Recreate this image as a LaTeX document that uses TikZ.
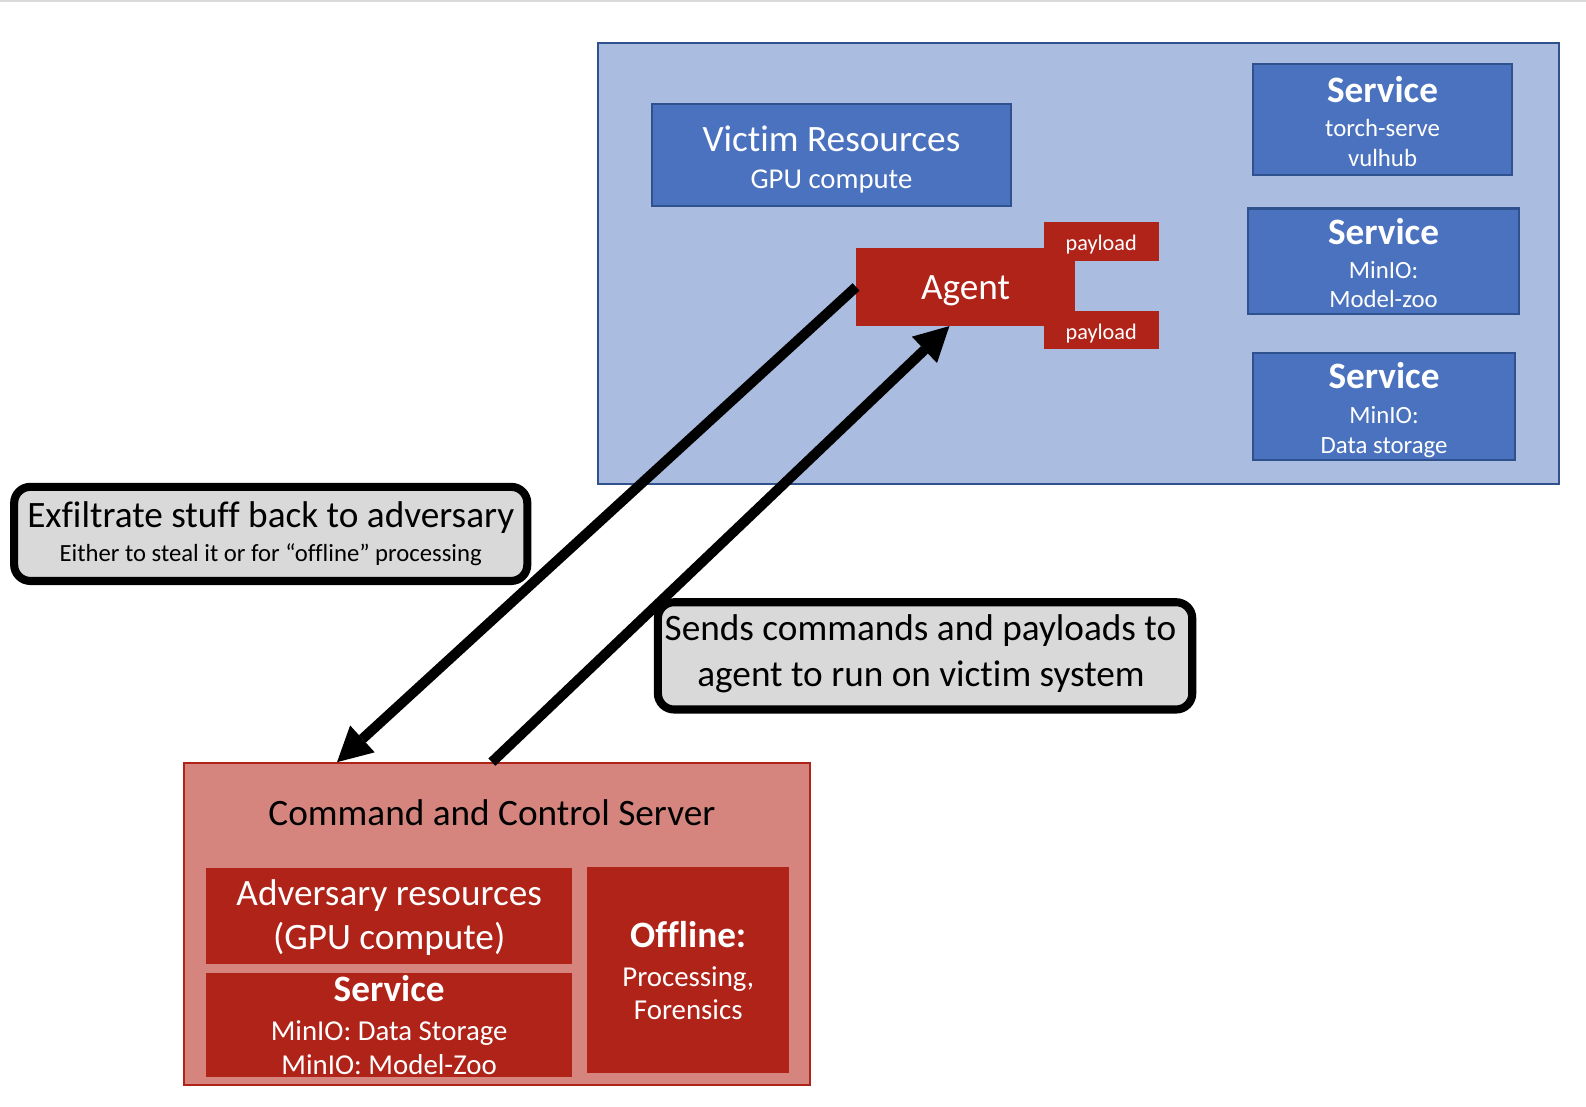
\documentclass[tikz,border=0pt]{standalone}
\usepackage{fontspec}
\setmainfont{Carlito}[Ligatures={NoCommon}]
\usetikzlibrary{arrows.meta}
\definecolor{bluebg}{HTML}{AABCE0}
\definecolor{blueline}{HTML}{2F528F}
\definecolor{bluebox}{HTML}{4A72BE}
\definecolor{redbox}{HTML}{AF2319}
\definecolor{redbg}{HTML}{D5847E}
\definecolor{callgray}{HTML}{D9D9D9}
\newcommand\fsz[1]{\fontsize{#1}{#1}\selectfont}
% a line of fixed height: optional height of the strut, then the text
\newcommand\Ln[2][0]{\rule{0pt}{#1pt}\smash{#2}}
\begin{document}
\begin{tikzpicture}[x=1pt,y=-1pt,
  bbox/.style={draw=blueline, line width=2pt, fill=bluebox, text=white, rectangle,
    inner sep=0pt, align=center, font=\fsz{36.8}},
  rbox/.style={fill=redbox, text=white, rectangle, inner sep=0pt, align=center, font=\fsz{36.8}},
  callout/.style={draw=black, line width=8pt, fill=callgray, rounded corners=16pt,
    rectangle, inner sep=0pt, align=center, font=\fsz{36.8}, text=black},
  arr/.style={line width=10pt, draw=black, -{Triangle[length=34pt,width=36pt,line width=0pt]}}]
\useasboundingbox (0,0) rectangle (1567,1093);
\fill[callgray] (0,0) rectangle (1567,2);

% victim environment
\node[draw=blueline, line width=2pt, fill=bluebg, rectangle, inner sep=0pt,
  minimum width=949pt, minimum height=436pt] (victim) at (1065.5,260) {};
\node[bbox, minimum width=355pt, minimum height=101pt] (vres) at (821.5,153.5)
  {\Ln[28.8]{Victim Resources}\\[0.4pt]{\fsz{28.4}\Ln{GPU compute}}};
\node[bbox, minimum width=256pt, minimum height=110pt] (svc1) at (1366,118)
  {\Ln[29.5]{\bfseries Service}\\[-2.9pt]{\fsz{24.5}\Ln{torch-serve}}\\[-7.8pt]{\fsz{24.5}\Ln{vulhub}}};
\node[bbox, minimum width=268pt, minimum height=104pt] (svc2) at (1367,258)
  {\Ln[29.5]{\bfseries Service}\\[-2.9pt]{\fsz{24.5}\Ln{MinIO:}}\\[-7.8pt]{\fsz{24.5}\Ln{Model-zoo}}};
\node[bbox, minimum width=259pt, minimum height=105pt] (svc3) at (1367.5,401.5)
  {\Ln[29.5]{\bfseries Service}\\[-2.9pt]{\fsz{24.5}\Ln{MinIO:}}\\[-6.8pt]{\fsz{24.5}\Ln{Data storage}}};

% agent
\node[rbox, minimum width=216pt, minimum height=77pt] (agent) at (954,283.5) {};
\node[rbox, minimum width=114pt, minimum height=39pt, font=\fsz{22}, text height=17pt, text depth=0pt] (pl1) at (1088,238.5) {payload};
\node[rbox, minimum width=114pt, minimum height=38pt, font=\fsz{22}, text height=18.6pt, text depth=0pt] (pl2) at (1088,326) {payload};
\node[text=white, font=\fsz{36.8}, inner sep=0pt, anchor=base] (agentlbl) at (954,296.3) {Agent};

% command and control server
\node[draw=redbox, line width=2pt, fill=redbg, rectangle, inner sep=0pt,
  minimum width=618pt, minimum height=318pt] (c2) at (491,913) {};
\node[font=\fsz{36.8}, text=black, inner sep=0pt, anchor=base] (c2title) at (486,815.5) {Command and Control Server};
\node[rbox, minimum width=361pt, minimum height=94pt] (adv) at (384.5,905)
  {\Ln[23]{Adversary resources}\\[7.2pt]\Ln{(GPU compute)}};
\node[rbox, minimum width=361pt, minimum height=103pt] (c2svc) at (384.5,1012.5)
  {\Ln[25.8]{\bfseries Service}\\[2.4pt]{\fsz{28.5}\Ln{MinIO: Data Storage}}\\[-3.8pt]{\fsz{28.5}\Ln{MinIO: Model-Zoo}}};
\node[rbox, minimum width=200pt, minimum height=203pt] (offline) at (680,958.5)
  {\Ln[26.5]{\bfseries Offline:}\\[1.7pt]{\fsz{28.5}\Ln{Processing,}}\\[-3.8pt]{\fsz{28.5}\Ln{Forensics}}};

% connectors
\coordinate (c2a) at ([xshift=152pt]c2.north west);
\coordinate (c2b) at ([xshift=305pt]c2.north west);
\coordinate (agb) at ([xshift=-16pt]agent.south);
\draw[arr] (agent.west) -- (c2a);
\draw[arr] (c2b) -- (agb);

% callouts
\node[callout, minimum width=507pt, minimum height=93pt] (exfil) at (267.5,527.5)
  {\Ln[21.5]{Exfiltrate stuff back to adversary}\\[-2.9pt]{\fsz{24.4}\Ln{Either to steal it or for “offline” processing}}};
\node[callout, minimum width=528pt, minimum height=106pt] (sends) at (914,648)
  {\Ln[15.6]{Sends commands and payloads to}\hspace*{9pt}\\[8.2pt]\Ln{agent to run on victim system}\hspace*{8pt}};
\end{tikzpicture}
\end{document}
